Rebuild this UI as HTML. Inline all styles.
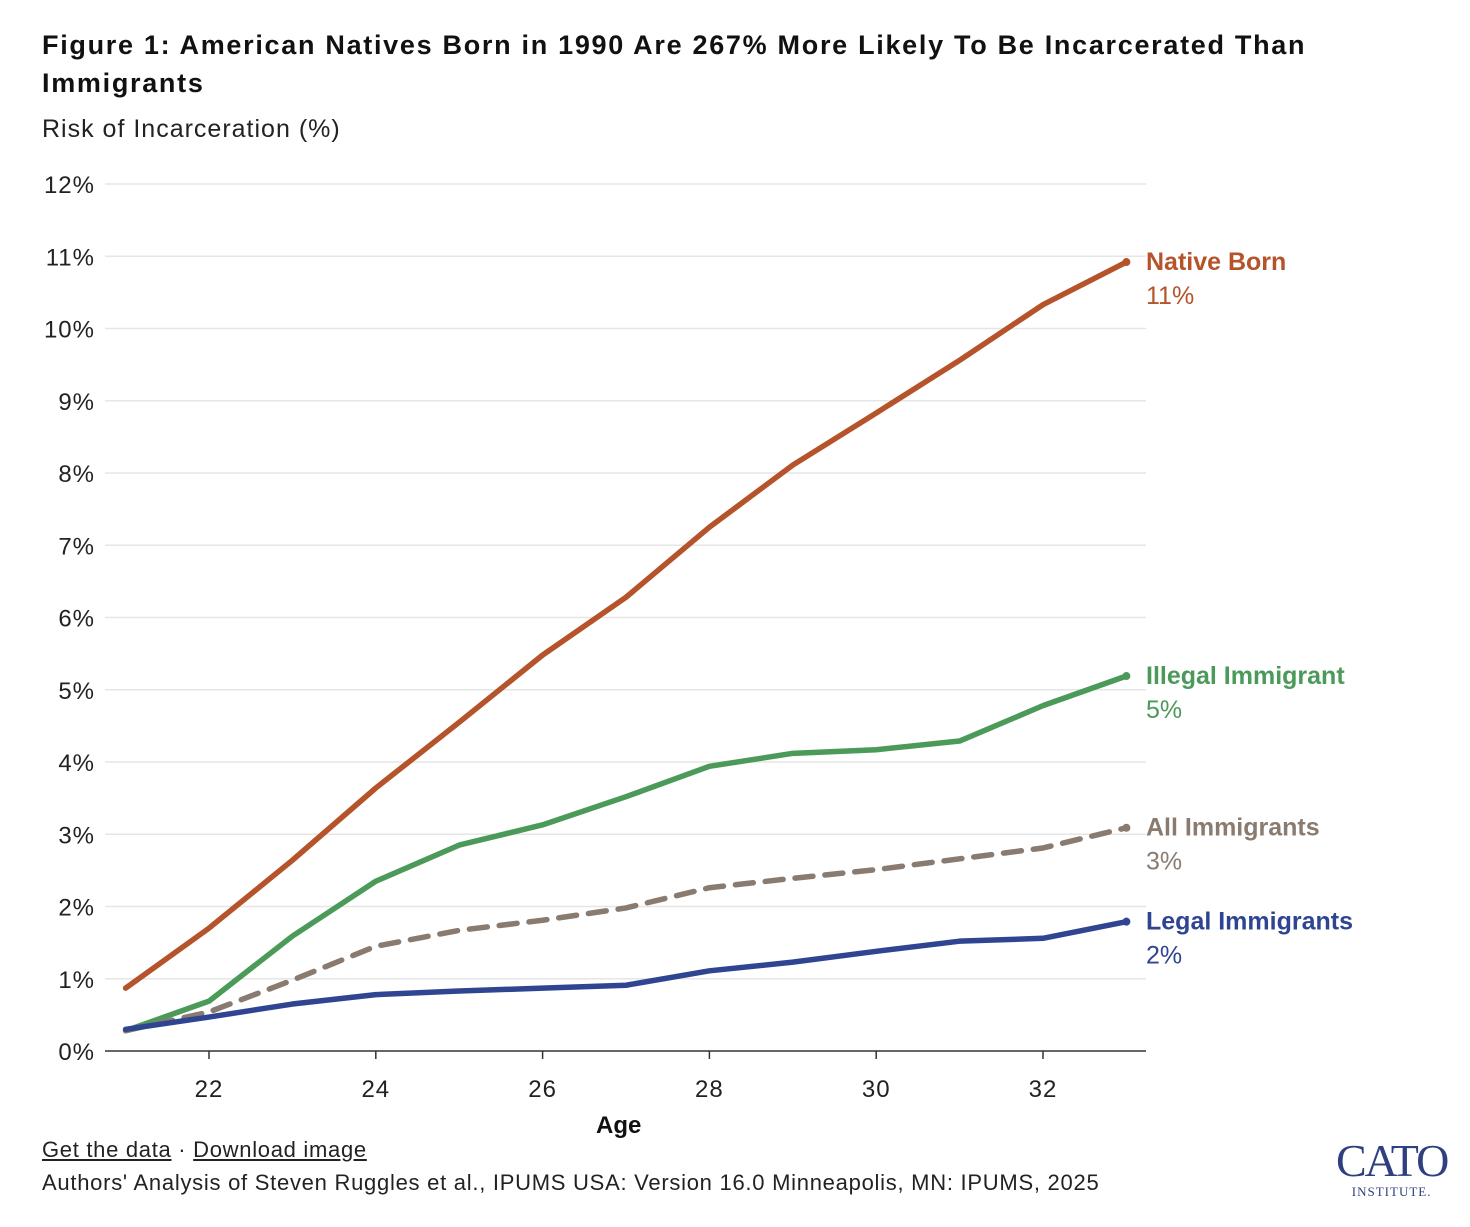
<!DOCTYPE html>
<html><head><meta charset="utf-8">
<style>
html,body{margin:0;padding:0;background:#fff;}
body{width:1470px;height:1227px;position:relative;overflow:hidden;font-family:"Liberation Sans",sans-serif;}
.t{position:absolute;white-space:nowrap;}
</style></head>
<body>
<div class="t" style="left:42px;top:26px;font-size:27px;font-weight:bold;color:#111;line-height:38px;letter-spacing:1.7px;">Figure 1: American Natives Born in 1990 Are 267% More Likely To Be Incarcerated Than<br>Immigrants</div>
<div class="t" style="left:42px;top:115px;font-size:25px;color:#222;letter-spacing:1px;">Risk of Incarceration (%)</div>
<svg id="chart" width="1470" height="1227" style="position:absolute;left:0;top:0;"></svg>
<div class="t" style="left:596px;top:1112px;font-size:24px;font-weight:bold;color:#111;">Age</div>
<div class="t" style="left:42px;top:1137px;font-size:22px;color:#222;letter-spacing:0.7px;"><span style="text-decoration:underline;">Get the data</span> · <span style="text-decoration:underline;">Download image</span></div>
<div class="t" style="left:42px;top:1170px;font-size:22px;color:#222;letter-spacing:0.73px;">Authors' Analysis of Steven Ruggles et al., IPUMS USA: Version 16.0 Minneapolis, MN: IPUMS, 2025</div>
<div class="t" style="left:1336px;top:1138px;font-family:'Liberation Serif',serif;color:#2f3f80;text-align:center;"><div style="font-size:46px;line-height:46px;letter-spacing:-2px;">CATO</div><div style="font-size:13px;letter-spacing:1px;">INSTITUTE.</div></div>
<script>
const ages=[21,22,23,24,25,26,27,28,29,30,31,32,33];
const nativeBorn=[0.87,1.70,2.64,3.64,4.55,5.48,6.28,7.25,8.11,8.83,9.56,10.33,10.92];
const illegalImm=[0.28,0.69,1.59,2.35,2.85,3.13,3.52,3.94,4.12,4.17,4.29,4.78,5.19];
const allImm=[0.28,0.54,0.98,1.45,1.67,1.81,1.98,2.26,2.39,2.51,2.66,2.81,3.09];
const legalImm=[0.30,0.47,0.65,0.78,0.83,0.87,0.91,1.11,1.23,1.38,1.52,1.56,1.79];
const yTicks=[0,1,2,3,4,5,6,7,8,9,10,11,12];
const xTicks=[22,24,26,28,30,32];
const labels=["Native Born","Illegal Immigrant","All Immigrants","Legal Immigrants"];
const endLabels=["11%","5%","3%","2%"];

const svg=document.getElementById('chart');
const NS='http://www.w3.org/2000/svg';
const x=a=>125.6+(a-21)*83.4;
const y=v=>1051-v*72.25;
function mk(t,at){const e=document.createElementNS(NS,t);for(const k in at)e.setAttribute(k,at[k]);svg.appendChild(e);return e;}
yTicks.forEach(v=>{
  if(v>0){const g=mk('line',{x1:105,x2:1146,y1:y(v),y2:y(v),stroke:'#e6e6e6','stroke-width':1.5});
  
  }
  const t=mk('text',{x:95,y:y(v)+9,'text-anchor':'end','font-size':24,fill:'#222','letter-spacing':1,'font-family':'Liberation Sans, sans-serif'});
  t.textContent=v+'%';
  
  
});
const ax=mk('line',{x1:105,x2:1146,y1:y(0),y2:y(0),stroke:'#333','stroke-width':1.5});


xTicks.forEach(a=>{
  const tk=mk('line',{x1:x(a),x2:x(a),y1:y(0),y2:y(0)+8,stroke:'#333','stroke-width':1.5});
  
  
  const t=mk('text',{x:x(a),y:1097,'text-anchor':'middle','font-size':24,fill:'#222','letter-spacing':1,'font-family':'Liberation Sans, sans-serif'});
  t.textContent=a;
  
  
});
const series=[nativeBorn,illegalImm,allImm,legalImm];
const colors=['#b5532b','#4b9a5a','#8a7b70','#2f4592'];
const names=['native-born-line','illegal-immigrant-line','all-immigrants-line','legal-immigrants-line'];
series.forEach((s,i)=>{
  const d=s.map((v,j)=>(j?'L':'M')+x(ages[j])+' '+y(v)).join(' ');
  const p=mk('path',{d:d,fill:'none',stroke:colors[i],'stroke-width':5.5,'stroke-linecap':'round','stroke-linejoin':'round'});
  if(i==2)p.setAttribute('stroke-dasharray','18 12');
  
  
  const last=s[s.length-1];
  const c=mk('circle',{cx:x(ages[ages.length-1]),cy:y(last),r:4,fill:colors[i]});
  
  
  const ly=y(last);
  const t1=mk('text',{x:1146,y:ly+8,'font-size':25,'font-weight':'bold',fill:colors[i],'font-family':'Liberation Sans, sans-serif'});
  t1.textContent=labels[i];
  
  
  const t2=mk('text',{x:1146,y:ly+42,'font-size':25,fill:colors[i],'font-family':'Liberation Sans, sans-serif'});
  t2.textContent=endLabels[i];
  
  
});
</script>
</body></html>
